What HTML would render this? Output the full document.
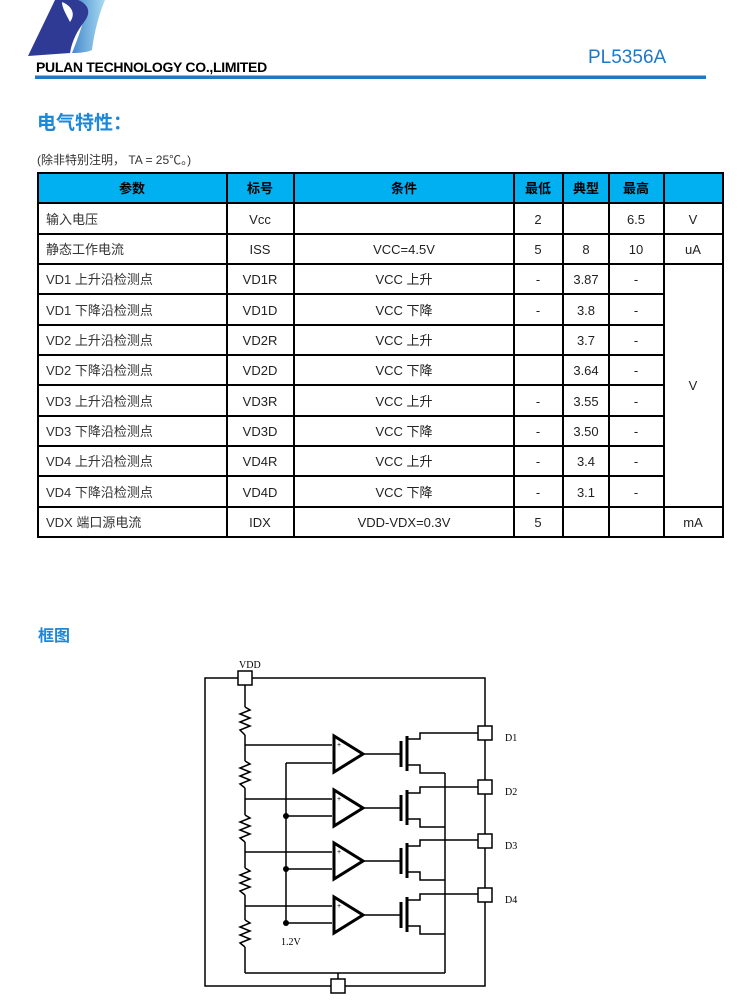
<!DOCTYPE html>
<html><head><meta charset="utf-8"><style>
html,body{margin:0;padding:0;background:#fff;}
svg{display:block;}
text{font-family:"Liberation Sans","Noto Sans CJK SC",sans-serif;}
</style></head><body>
<svg width="750" height="1000" viewBox="0 0 750 1000" xmlns="http://www.w3.org/2000/svg">
<defs>
<linearGradient id="lg" x1="0" x2="1" y1="0" y2="0">
<stop offset="0" stop-color="#2a6fc0"/><stop offset="1" stop-color="#a8dcf2"/>
</linearGradient>
</defs>
<!-- logo -->
<path d="M62,0 L105,0 C100,12 95,28 92,50 C88,52 80,53 72,53 C78,38 84,22 86,8 C80,14 76,18 73,24 C70,16 66,8 62,0Z" fill="url(#lg)"/>
<path d="M55,0 L78,0 C88,4 92,12 84,22 C78,30 72,40 70,53 L28,56 Z" fill="#2e3a94"/>
<path d="M62,2 C72,6 76,14 70,22 C66,14 62,8 62,2Z" fill="#fff"/>
<text x="36" y="72" font-size="14" font-weight="bold" fill="#000" letter-spacing="-0.3">PULAN TECHNOLOGY CO.,LIMITED</text>
<text x="588" y="63" font-size="19" fill="#1e78c8">PL5356A</text>
<rect x="35" y="75.5" width="671" height="3.5" fill="#1e78c8"/>
<text x="37" y="129" font-size="19" font-weight="bold" fill="#1e88d8">电气特性：</text>
<text x="37" y="164" font-size="12" fill="#333">(除非特别注明，  TA = 25℃。)</text>

<!-- table -->
<rect x="38" y="173" width="685" height="30" fill="#00b0f0"/>
<g stroke="#000" stroke-width="2" fill="none">
<rect x="38" y="173" width="685" height="364"/>
<line x1="227" y1="173" x2="227" y2="537"/>
<line x1="294" y1="173" x2="294" y2="537"/>
<line x1="514" y1="173" x2="514" y2="537"/>
<line x1="563" y1="173" x2="563" y2="537"/>
<line x1="609" y1="173" x2="609" y2="537"/>
<line x1="664" y1="173" x2="664" y2="537"/>
<line x1="38" y1="203" x2="723" y2="203"/>
<line x1="38" y1="234" x2="723" y2="234"/>
<line x1="38" y1="264" x2="723" y2="264"/>
<line x1="38" y1="294" x2="664" y2="294"/>
<line x1="38" y1="325" x2="664" y2="325"/>
<line x1="38" y1="355" x2="664" y2="355"/>
<line x1="38" y1="385" x2="664" y2="385"/>
<line x1="38" y1="416" x2="664" y2="416"/>
<line x1="38" y1="446" x2="664" y2="446"/>
<line x1="38" y1="476" x2="664" y2="476"/>
<line x1="38" y1="507" x2="723" y2="507"/>
</g>
<g font-size="13" font-weight="bold" text-anchor="middle" fill="#000">
<text x="132" y="193">参数</text><text x="260" y="193">标号</text><text x="404" y="193">条件</text>
<text x="538" y="193">最低</text><text x="586" y="193">典型</text><text x="636" y="193">最高</text>
</g>
<g font-size="13" fill="#333">
<text x="46" y="224">输入电压</text>
<text x="46" y="254">静态工作电流</text>
<text x="46" y="284">VD1 上升沿检测点</text>
<text x="46" y="315">VD1 下降沿检测点</text>
<text x="46" y="345">VD2 上升沿检测点</text>
<text x="46" y="375">VD2 下降沿检测点</text>
<text x="46" y="406">VD3 上升沿检测点</text>
<text x="46" y="436">VD3 下降沿检测点</text>
<text x="46" y="466">VD4 上升沿检测点</text>
<text x="46" y="497">VD4 下降沿检测点</text>
<text x="46" y="527">VDX 端口源电流</text>
</g>
<g font-size="13" fill="#222" text-anchor="middle">
<text x="260" y="224">Vcc</text><text x="260" y="254">ISS</text><text x="260" y="284">VD1R</text><text x="260" y="315">VD1D</text>
<text x="260" y="345">VD2R</text><text x="260" y="375">VD2D</text><text x="260" y="406">VD3R</text><text x="260" y="436">VD3D</text>
<text x="260" y="466">VD4R</text><text x="260" y="497">VD4D</text><text x="260" y="527">IDX</text>
<text x="404" y="254">VCC=4.5V</text>
<text x="404" y="284">VCC 上升</text><text x="404" y="315">VCC 下降</text>
<text x="404" y="345">VCC 上升</text><text x="404" y="375">VCC 下降</text>
<text x="404" y="406">VCC 上升</text><text x="404" y="436">VCC 下降</text>
<text x="404" y="466">VCC 上升</text><text x="404" y="497">VCC 下降</text>
<text x="404" y="527">VDD-VDX=0.3V</text>
<text x="538" y="224">2</text><text x="538" y="254">5</text><text x="538" y="284">-</text><text x="538" y="315">-</text>
<text x="538" y="406">-</text><text x="538" y="436">-</text><text x="538" y="466">-</text><text x="538" y="497">-</text><text x="538" y="527">5</text>
<text x="586" y="254">8</text><text x="586" y="284">3.87</text><text x="586" y="315">3.8</text><text x="586" y="345">3.7</text>
<text x="586" y="375">3.64</text><text x="586" y="406">3.55</text><text x="586" y="436">3.50</text><text x="586" y="466">3.4</text><text x="586" y="497">3.1</text>
<text x="636" y="224">6.5</text><text x="636" y="254">10</text><text x="636" y="284">-</text><text x="636" y="315">-</text><text x="636" y="345">-</text>
<text x="636" y="375">-</text><text x="636" y="406">-</text><text x="636" y="436">-</text><text x="636" y="466">-</text><text x="636" y="497">-</text>
<text x="693" y="224">V</text><text x="693" y="254">uA</text><text x="693" y="390">V</text><text x="693" y="527">mA</text>
</g>

<text x="38" y="641" font-size="16" font-weight="bold" fill="#1e88d8">框图</text>

<!-- schematic -->
<g stroke="#000" stroke-width="1.5" fill="none">
<rect x="205" y="678" width="280" height="308"/>
<line x1="245" y1="678" x2="245" y2="707"/>
<polyline points="245,707 250,710 240,714 250,718 240,722 250,726 240,730 245,735"/>
<line x1="245" y1="735" x2="245" y2="761"/>
<polyline points="245,761 250,764 240,768 250,772 240,776 250,780 240,784 245,788"/>
<line x1="245" y1="788" x2="245" y2="815"/>
<polyline points="245,815 250,818 240,822 250,826 240,830 250,834 240,838 245,842"/>
<line x1="245" y1="842" x2="245" y2="868"/>
<polyline points="245,868 250,871 240,875 250,879 240,883 250,887 240,891 245,895"/>
<line x1="245" y1="895" x2="245" y2="920"/>
<polyline points="245,920 250,923 240,927 250,931 240,935 250,939 240,943 245,947"/>
<line x1="245" y1="947" x2="245" y2="973"/>
<line x1="245" y1="973" x2="445" y2="973"/>
<line x1="338" y1="973" x2="338" y2="986"/>
<line x1="445" y1="773" x2="445" y2="973"/>
<line x1="286" y1="763" x2="286" y2="923"/>
</g>
<g fill="#000"><circle cx="286" cy="816" r="3"/><circle cx="286" cy="869" r="3"/><circle cx="286" cy="923" r="3"/></g>
<g stroke="#000" fill="none">
<g transform="translate(0,0)">
<line x1="245" y1="745" x2="332" y2="745" stroke-width="1.5"/>
<line x1="286" y1="763" x2="332" y2="763" stroke-width="1.5"/>
<polygon points="334,736 334,772 363,754" stroke-width="3"/>
<line x1="363" y1="754" x2="400" y2="754" stroke-width="1.5"/>
<line x1="401" y1="741" x2="401" y2="767" stroke-width="3"/>
<line x1="407" y1="736" x2="407" y2="771" stroke-width="3"/>
<polyline points="407,739 420,739 420,733 485,733" stroke-width="1.5"/>
<polyline points="407,765 420,765 420,773 445,773" stroke-width="1.5"/>
</g>
<g transform="translate(0,54)">
<line x1="245" y1="745" x2="332" y2="745" stroke-width="1.5"/>
<line x1="286" y1="762" x2="332" y2="762" stroke-width="1.5"/>
<polygon points="334,736 334,772 363,754" stroke-width="3"/>
<line x1="363" y1="754" x2="400" y2="754" stroke-width="1.5"/>
<line x1="401" y1="741" x2="401" y2="767" stroke-width="3"/>
<line x1="407" y1="736" x2="407" y2="771" stroke-width="3"/>
<polyline points="407,739 420,739 420,733 485,733" stroke-width="1.5"/>
<polyline points="407,765 420,765 420,773 445,773" stroke-width="1.5"/>
</g>
<g transform="translate(0,107)">
<line x1="245" y1="745" x2="332" y2="745" stroke-width="1.5"/>
<line x1="286" y1="762" x2="332" y2="762" stroke-width="1.5"/>
<polygon points="334,736 334,772 363,754" stroke-width="3"/>
<line x1="363" y1="754" x2="400" y2="754" stroke-width="1.5"/>
<line x1="401" y1="741" x2="401" y2="767" stroke-width="3"/>
<line x1="407" y1="736" x2="407" y2="771" stroke-width="3"/>
<polyline points="407,739 420,739 420,733 485,733" stroke-width="1.5"/>
<polyline points="407,765 420,765 420,773 445,773" stroke-width="1.5"/>
</g>
<g transform="translate(0,161)">
<line x1="245" y1="745" x2="332" y2="745" stroke-width="1.5"/>
<line x1="286" y1="762" x2="332" y2="762" stroke-width="1.5"/>
<polygon points="334,736 334,772 363,754" stroke-width="3"/>
<line x1="363" y1="754" x2="400" y2="754" stroke-width="1.5"/>
<line x1="401" y1="741" x2="401" y2="767" stroke-width="3"/>
<line x1="407" y1="736" x2="407" y2="771" stroke-width="3"/>
<polyline points="407,739 420,739 420,733 485,733" stroke-width="1.5"/>
<polyline points="407,765 420,765 420,773 445,773" stroke-width="1.5"/>
</g>
</g>
<g font-size="7" fill="#000">
<text x="337" y="747">+</text><text x="337" y="801">+</text><text x="337" y="854">+</text><text x="337" y="908">+</text>
</g>
<g fill="#fff" stroke="#000" stroke-width="1.5">
<rect x="238" y="671" width="14" height="14"/>
<rect x="331" y="979" width="14" height="14"/>
<rect x="478" y="726" width="14" height="14"/>
<rect x="478" y="780" width="14" height="14"/>
<rect x="478" y="834" width="14" height="14"/>
<rect x="478" y="888" width="14" height="14"/>
</g>
<g font-size="10" fill="#000">
<text x="239" y="668" style="font-family:'Liberation Serif',serif">VDD</text>
<text x="505" y="741" style="font-family:'Liberation Serif',serif">D1</text>
<text x="505" y="795" style="font-family:'Liberation Serif',serif">D2</text>
<text x="505" y="849" style="font-family:'Liberation Serif',serif">D3</text>
<text x="505" y="903" style="font-family:'Liberation Serif',serif">D4</text>
<text x="281" y="945" style="font-family:'Liberation Serif',serif">1.2V</text>
</g>
</svg>
</body></html>
